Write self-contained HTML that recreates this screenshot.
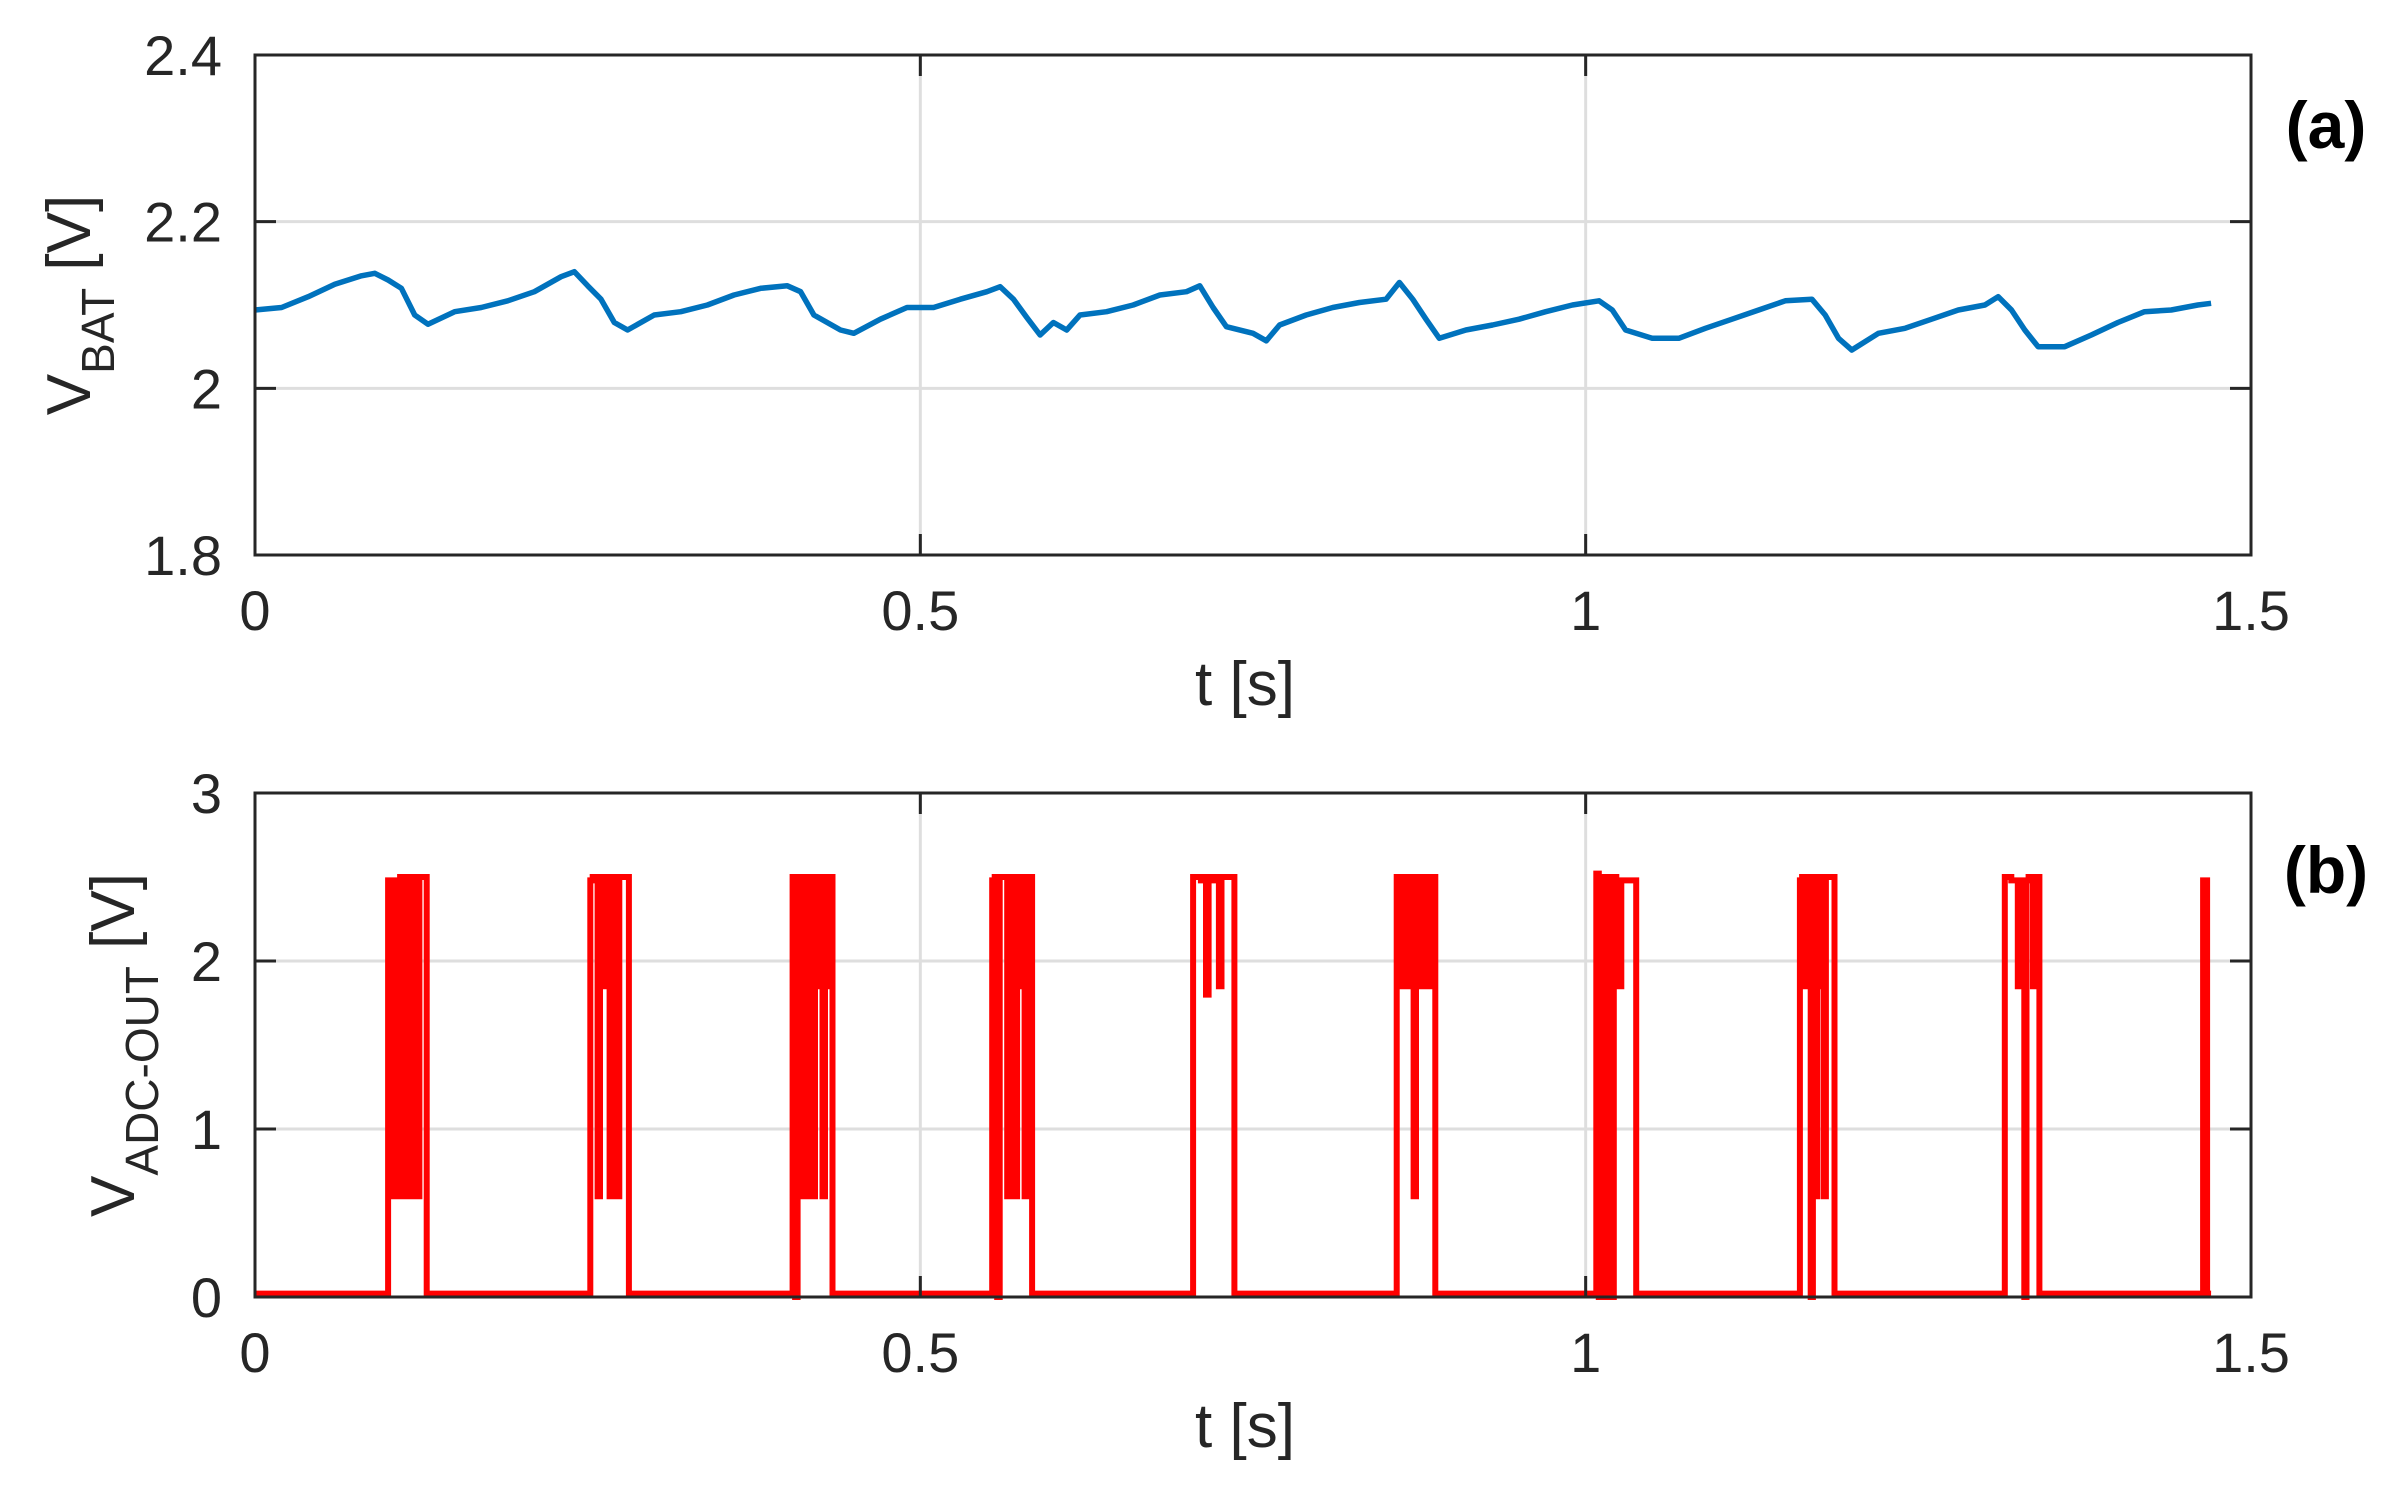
<!DOCTYPE html>
<html><head><meta charset="utf-8"><style>
html,body{margin:0;padding:0;background:#fff}
svg{display:block}
text{font-family:"Liberation Sans Narrow","Liberation Sans",sans-serif;fill:#262626}
</style></head><body>
<svg id="c" width="2400" height="1500" viewBox="0 0 2400 1500" xmlns="http://www.w3.org/2000/svg"></svg>
<script>
// ---- data ----
const vbatT = [0,0.02,0.04,0.06,0.08,0.09,0.10,0.11,0.12,0.13,0.15,0.17,0.19,0.21,0.23,0.24,0.25,0.26,0.27,0.28,0.30,0.32,0.34,0.36,0.38,0.40,0.41,0.42,0.44,0.45,0.47,0.49,0.51,0.53,0.55,0.56,0.57,0.58,0.59,0.60,0.61,0.62,0.64,0.66,0.68,0.70,0.71,0.72,0.73,0.75,0.76,0.77,0.79,0.81,0.83,0.85,0.86,0.87,0.88,0.89,0.91,0.93,0.95,0.97,0.99,1.01,1.02,1.03,1.05,1.07,1.09,1.11,1.13,1.15,1.17,1.18,1.19,1.20,1.22,1.24,1.26,1.28,1.30,1.31,1.32,1.33,1.34,1.36,1.38,1.40,1.42,1.44,1.46,1.47];
const vbatV = [2.094,2.097,2.11,2.125,2.135,2.138,2.13,2.12,2.088,2.077,2.092,2.097,2.105,2.116,2.134,2.14,2.123,2.107,2.079,2.07,2.088,2.092,2.10,2.112,2.12,2.123,2.116,2.088,2.07,2.066,2.083,2.097,2.097,2.107,2.116,2.122,2.107,2.085,2.064,2.079,2.07,2.088,2.092,2.10,2.112,2.116,2.123,2.097,2.074,2.066,2.057,2.076,2.088,2.097,2.103,2.107,2.127,2.107,2.083,2.06,2.07,2.076,2.083,2.092,2.10,2.105,2.094,2.07,2.06,2.06,2.072,2.083,2.094,2.105,2.107,2.088,2.06,2.046,2.066,2.072,2.083,2.094,2.10,2.11,2.094,2.07,2.05,2.05,2.064,2.079,2.092,2.094,2.10,2.102];
const burstStart = [0.100,0.252,0.404,0.554,0.705,0.858,1.008,1.161,1.315,1.464];
const burstEnd   = [0.129,0.281,0.434,0.584,0.736,0.887,1.038,1.187,1.341,1.467];
const burstLevels = [
 [2.48,0.6,2.48,2.2,0.6,2.5,2.48,0.6,2.5,0.6,2.5,2.5,0.6,2.5,2.5,2.5],
 [2.48,2.5,2.5,0.6,2.48,2.5,1.85,2.5,0.6,2.5,1.85,0.6,2.5,2.5,2.5,2.5],
 [2.5,0.0,2.48,2.5,0.6,2.5,0.6,2.5,0.6,2.5,1.85,2.5,0.6,2.5,1.85,2.5],
 [2.48,2.5,0.0,2.5,2.5,2.5,0.6,2.48,2.5,0.6,2.5,1.85,2.5,0.6,2.5,2.5],
 [2.5,2.5,2.5,2.48,2.5,1.8,2.48,2.5,2.5,2.48,1.85,2.5,2.5,2.5,2.5,2.5],
 [2.5,1.85,2.5,2.48,1.85,2.5,2.5,0.6,2.48,2.5,1.85,2.5,2.5,1.85,2.5,2.5],
 [2.52,0.0,2.5,0.0,2.5,2.48,0.0,2.5,2.48,1.85,2.48,2.48,2.48,2.48,2.48,2.48],
 [2.48,2.5,1.85,2.5,2.5,0.0,2.5,0.6,2.5,1.85,2.5,0.6,2.5,2.5,2.5,2.5],
 [2.5,2.5,2.5,2.48,2.48,2.48,1.85,2.48,2.48,0.0,2.48,2.5,2.5,1.85,2.5,2.5],
 [2.48,2.48]
];
const xTicks = [0,0.5,1,1.5];
const xTickLabels = ["0","0.5","1","1.5"];
const yTicksA = [1.8,2,2.2,2.4];
const yTickLabelsA = ["1.8","2","2.2","2.4"];
const yTicksB = [0,1,2,3];
const yTickLabelsB = ["0","1","2","3"];

// ---- layout ----
const NS="http://www.w3.org/2000/svg";
const svg=document.getElementById('c');
const L=255,R=2251;
const pA={top:55,bot:555,ymin:1.8,ymax:2.4};
const pB={top:793,bot:1297,ymin:0,ymax:3};
const X=t=>L+(t/1.5)*(R-L);
const Y=(p,v)=>p.bot-(v-p.ymin)/(p.ymax-p.ymin)*(p.bot-p.top);
function mk(tag,attrs,parent){const e=document.createElementNS(NS,tag);for(const k in attrs)e.setAttribute(k,attrs[k]);(parent||svg).appendChild(e);return e;}

function axes(p,yt,ytl,id,letter,ylabMain,ylabSub,ylabX,letterY){
  const g=mk('g',{});
  
  
  xTicks.forEach(t=>{if(t>0&&t<1.5){const l=mk('line',{x1:X(t),x2:X(t),y1:p.top,y2:p.bot,stroke:'#dedede','stroke-width':3},g);
    }});
  yt.forEach(v=>{if(v>p.ymin&&v<p.ymax){const l=mk('line',{x1:L,x2:R,y1:Y(p,v),y2:Y(p,v),stroke:'#dedede','stroke-width':3},g);
    }});
  const plot=mk('g',{},g);
  
  
  xTicks.forEach((t,i)=>{
    mk('line',{x1:X(t),x2:X(t),y1:p.bot,y2:p.bot-21,stroke:'#262626','stroke-width':3},g);
    mk('line',{x1:X(t),x2:X(t),y1:p.top,y2:p.top+21,stroke:'#262626','stroke-width':3},g);
    const tx=mk('text',{x:X(t),y:p.bot+75,'text-anchor':'middle','font-size':56},g);
    tx.textContent=xTickLabels[i];
    
  });
  yt.forEach((v,i)=>{
    mk('line',{x1:L,x2:L+21,y1:Y(p,v),y2:Y(p,v),stroke:'#262626','stroke-width':3},g);
    mk('line',{x1:R,x2:R-21,y1:Y(p,v),y2:Y(p,v),stroke:'#262626','stroke-width':3},g);
    const tx=mk('text',{x:L-33,y:Y(p,v)+20,'text-anchor':'end','font-size':56},g);
    tx.textContent=ytl[i];
    
  });
  const box=mk('rect',{x:L,y:p.top,width:R-L,height:p.bot-p.top,fill:'none',stroke:'#262626','stroke-width':3},g);
  
  const xl=mk('text',{x:(L+R)/2-8,y:p.bot+150,'text-anchor':'middle','font-size':62},g);
  xl.textContent='t [s]';
  
  const cy=(p.top+p.bot)/2;
  const yl=mk('text',{x:0,y:0,'text-anchor':'middle','font-size':62,transform:`translate(${ylabX},${cy}) rotate(-90)`},g);
  
  const t1=mk('tspan',{},yl);t1.textContent=ylabMain;
  const t2=mk('tspan',{'font-size':46,dy:24},yl);t2.textContent=ylabSub;
  const t3=mk('tspan',{dy:-24},yl);t3.textContent=' [V]';
  const lt=mk('text',{x:2326,y:letterY,'text-anchor':'middle','font-size':66,'font-weight':'bold','font-family':'Liberation Sans, sans-serif',fill:'#000'},g);
  lt.style.fill='#000';
  lt.textContent=letter;
  
  return plot;
}

const plotA=axes(pA,yTicksA,yTickLabelsA,'a','(a)','V','BAT',90,148);
const plotB=axes(pB,yTicksB,yTickLabelsB,'b','(b)','V','ADC-OUT',134,893);

let d='';
vbatT.forEach((t,i)=>{d+=(i?'L':'M')+X(t).toFixed(1)+','+Y(pA,vbatV[i]).toFixed(1);});
const la=mk('path',{d:d,fill:'none',stroke:'#0072bd','stroke-width':5.5,'stroke-linejoin':'round'},plotA);



const base=0.02;
let db='M'+X(0)+','+Y(pB,base);
burstStart.forEach((s,i)=>{
  const e=burstEnd[i];const lv=burstLevels[i];const n=lv.length;
  db+='L'+X(s).toFixed(1)+','+Y(pB,base).toFixed(1);
  lv.forEach((v,k)=>{
    const ta=s+(e-s)*k/n, tb=s+(e-s)*(k+1)/n;
    db+='L'+X(ta).toFixed(1)+','+Y(pB,v).toFixed(1)+'L'+X(tb).toFixed(1)+','+Y(pB,v).toFixed(1);
  });
  db+='L'+X(e).toFixed(1)+','+Y(pB,base).toFixed(1);
});
db+='L'+X(1.47)+','+Y(pB,base);
const lb=mk('path',{d:db,fill:'none',stroke:'#ff0000','stroke-width':6,'stroke-linejoin':'miter'},plotB);


</script>
</body></html>
